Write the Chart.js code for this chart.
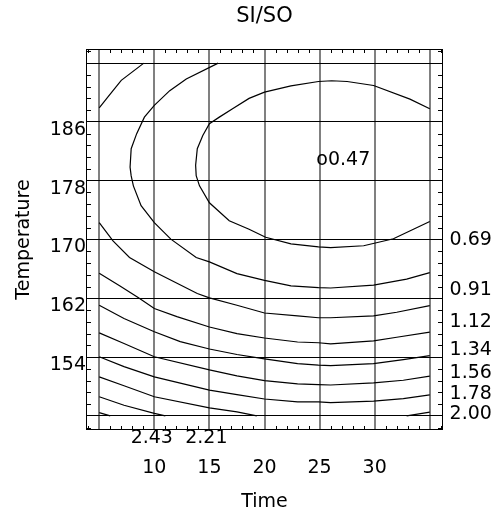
<!DOCTYPE html>
<html>
<head>
<meta charset="utf-8">
<script src="https://cdn.jsdelivr.net/npm/chart.js@4.4.0/dist/chart.umd.min.js"></script>
<style>
  html, body { margin: 0; padding: 0; background: #fff; }
  #wrap { width: 501px; height: 520px; }
</style>
</head>
<body>
<div id="wrap"><canvas id="chart"></canvas></div>
<script>
// SI/SO contour plot - Time vs Temperature

// --- Axis ticks ---
const timeGrid = [5, 10, 15, 20, 25, 30, 35];
const timeLabels = [10, 15, 20, 25, 30];
const tempGrid = [146, 154, 162, 170, 178, 186, 194];
const tempLabels = [154, 162, 170, 178, 186];

// --- Contour lines, [time, temperature] ---
const lvl069 = [[35.0,187.8],[33.2,189.1],[29.9,190.95],[27.5,191.5],[26.1,191.6],[24.9,191.5],[22.4,190.9],[20.0,190.05],[18.6,189.2],[17.1,187.8],[15.9,186.65],[15.0,185.75],[14.4,184.15],[13.9,182.35],[13.75,180.1],[13.8,178.7],[14.1,177.3],[15.0,175.0],[16.8,172.55],[18.6,171.4],[20.1,170.3],[22.4,169.4],[24.9,169.0],[26.0,168.9],[29.0,169.15],[31.7,170.1],[35.0,172.45]];
const lvl091 = [[15.8,194.0],[12.9,191.85],[11.4,190.25],[10.0,188.25],[9.1,186.65],[8.4,184.4],[7.9,182.35],[7.8,179.85],[7.9,178.65],[8.1,177.3],[8.8,174.6],[10.0,172.3],[11.5,170.05],[13.8,167.55],[15.0,166.95],[17.5,165.35],[20.0,164.45],[22.4,163.7],[24.9,163.45],[26.0,163.4],[29.9,163.8],[32.9,164.6],[35.0,165.5]];
const lvl112Corner = [[9.05,194.0],[7.0,191.65],[6.25,190.25],[5.65,189.15],[5.0,187.9]];
const lvl112 = [[5.0,172.3],[6.25,169.8],[7.75,167.55],[10.0,165.6],[13.9,162.65],[15.0,162.05],[17.5,161.05],[20.0,160.0],[23.0,159.6],[24.9,159.35],[26.0,159.35],[29.9,159.6],[32.0,160.1],[35.0,161.0]];
const lvl134 = [[5.0,165.4],[6.85,163.7],[8.6,162.05],[10.0,160.6],[12.05,159.5],[15.0,158.1],[17.5,157.2],[20.0,156.6],[23.0,156.05],[24.9,155.95],[26.0,155.8],[29.9,156.2],[32.0,156.7],[35.0,157.4]];
const lvl156 = [[5.0,161.05],[7.25,159.25],[10.0,157.45],[12.35,156.1],[15.0,155.1],[17.5,154.35],[20.0,153.75],[23.0,153.1],[24.9,152.9],[26.0,152.85],[29.9,153.1],[32.6,153.65],[35.0,154.2]];
const lvl178 = [[5.0,157.3],[7.25,155.85],[10.0,154.05],[15.0,152.25],[17.5,151.45],[20.0,150.8],[23.0,150.35],[24.9,150.25],[26.0,150.2],[29.9,150.5],[32.6,150.85],[35.0,151.4]];
const lvl200 = [[5.0,154.05],[7.25,152.7],[10.0,151.3],[15.0,149.5],[17.5,148.9],[20.0,148.3],[23.0,147.9],[24.9,147.9],[26.0,147.8],[29.9,148.0],[32.6,148.35],[35.0,148.85]];
const lowerLeft = [[5.0,151.3],[7.25,150.1],[10.0,148.6],[15.0,147.1],[17.5,146.55],[19.3,146.0]];
const lowerRight = [[32.9,146.0],[35.0,146.5]];
const lvl221 = [[5.0,148.6],[7.25,147.45],[10.0,146.35],[11.0,146.0]];
const lvl243 = [[5.0,146.45],[6.0,146.0]];

// --- Contour labels (left edge / middle of text) ---
const labelText = ['0.69', '0.91', '1.12', '1.34', '1.56', '1.78', '2.00', '2.43', '2.21'];
const labelTime = [36.8, 36.8, 36.8, 36.8, 36.8, 36.8, 36.8, 7.85, 12.8];
const labelTemp = [169.95, 163.15, 158.8, 155.0, 151.85, 149.0, 146.3, 143.05, 143.05];

// --- Optimum marker ---
const optText = 'o0.47';
const optTime = 24.7;
const optTemp = 180.85;

const FONT = 'DejaVu Sans';
const contours = [lvl069, lvl091, lvl112Corner, lvl112, lvl134, lvl156, lvl178, lvl200, lowerLeft, lowerRight, lvl221, lvl243];

// frame + inward minor ticks on all four sides
const frameTicks = {
  id: 'frameTicks',
  afterDatasetsDraw(chart) {
    const { ctx, chartArea: a, scales: { x, y } } = chart;
    ctx.save();
    ctx.strokeStyle = '#000';
    ctx.lineWidth = 1;
    ctx.beginPath();
    for (let v = Math.ceil(x.min); v <= x.max; v++) {
      if (v % 5 === 0) continue;
      const px = Math.round(x.getPixelForValue(v)) + 0.5;
      ctx.moveTo(px, a.top); ctx.lineTo(px, a.top + 4);
      ctx.moveTo(px, a.bottom); ctx.lineTo(px, a.bottom - 4);
    }
    for (let k = -1; k <= 31; k++) {
      if (k % 5 === 0) continue;
      const v = 194 - 1.6 * k;
      if (v < y.min || v > y.max) continue;
      const py = Math.round(y.getPixelForValue(v)) + 0.5;
      ctx.moveTo(a.left, py); ctx.lineTo(a.left + 5, py);
      ctx.moveTo(a.right, py); ctx.lineTo(a.right - 5, py);
    }
    ctx.stroke();
    ctx.strokeRect(a.left + 0.5, a.top + 0.5, a.width - 1, a.height - 1);
    ctx.restore();
  }
};

// contour level labels and optimum
const contourLabels = {
  id: 'contourLabels',
  afterDraw(chart) {
    const { ctx, scales: { x, y } } = chart;
    ctx.save();
    ctx.font = '19px "' + FONT + '"';
    ctx.fillStyle = '#000';
    ctx.textAlign = 'left';
    ctx.textBaseline = 'middle';
    labelText.forEach((t, i) => {
      ctx.fillText(t, x.getPixelForValue(labelTime[i]), y.getPixelForValue(labelTemp[i]));
    });
    ctx.fillText(optText, x.getPixelForValue(optTime), y.getPixelForValue(optTemp));
    ctx.restore();
  }
};

new Chart(document.getElementById('chart'), {
  type: 'scatter',
  data: {
    datasets: contours.map(pts => ({
      data: pts.map(p => ({ x: p[0], y: p[1] })),
      showLine: true,
      borderColor: '#000',
      borderWidth: 1.2,
      pointRadius: 0,
      pointHoverRadius: 0,
      fill: false,
      tension: 0,
    })),
  },
  options: {
    responsive: true,
    maintainAspectRatio: false,
    animation: false,
    events: [],
    layout: { padding: { left: 0, right: 58, top: 0, bottom: 0 } },
    plugins: {
      legend: { display: false },
      tooltip: { enabled: false },
      title: {
        display: true, text: 'SI/SO', color: '#000', fullSize: false,
        font: { family: FONT, size: 21, weight: 'normal' },
        padding: { top: 4, bottom: 19.8 },
      },
    },
    scales: {
      x: {
        type: 'linear', min: 3.8, max: 36.2,
        afterBuildTicks: s => { s.ticks = timeGrid.map(v => ({ value: v })); },
        afterFit: s => { s.height = 90; },
        grid: { color: '#808080', lineWidth: 2, drawTicks: false },
        border: { display: false },
        ticks: {
          autoSkip: false, maxRotation: 0, padding: 27, color: '#000',
          font: { family: FONT, size: 19 },
          callback: v => timeLabels.includes(v) ? String(v) : '',
        },
        title: {
          display: true, text: 'Time', color: '#000',
          font: { family: FONT, size: 19 },
          padding: { top: 0, bottom: 6.6 },
        },
      },
      y: {
        type: 'linear', min: 144.08, max: 195.92,
        afterBuildTicks: s => { s.ticks = tempGrid.map(v => ({ value: v })); },
        afterFit: s => { s.width = 86; },
        grid: { color: '#000', lineWidth: 1, drawTicks: false },
        border: { display: false },
        ticks: {
          autoSkip: false, padding: 0, labelOffset: 8, color: '#000',
          font: { family: FONT, size: 19 },
          callback: v => tempLabels.includes(v) ? String(v) : '',
        },
        title: {
          display: true, text: 'Temperature', color: '#000',
          font: { family: FONT, size: 19 },
          padding: { top: 12.6, bottom: 0 },
        },
      },
    },
  },
  plugins: [frameTicks, contourLabels],
});
</script>
</body>
</html>
